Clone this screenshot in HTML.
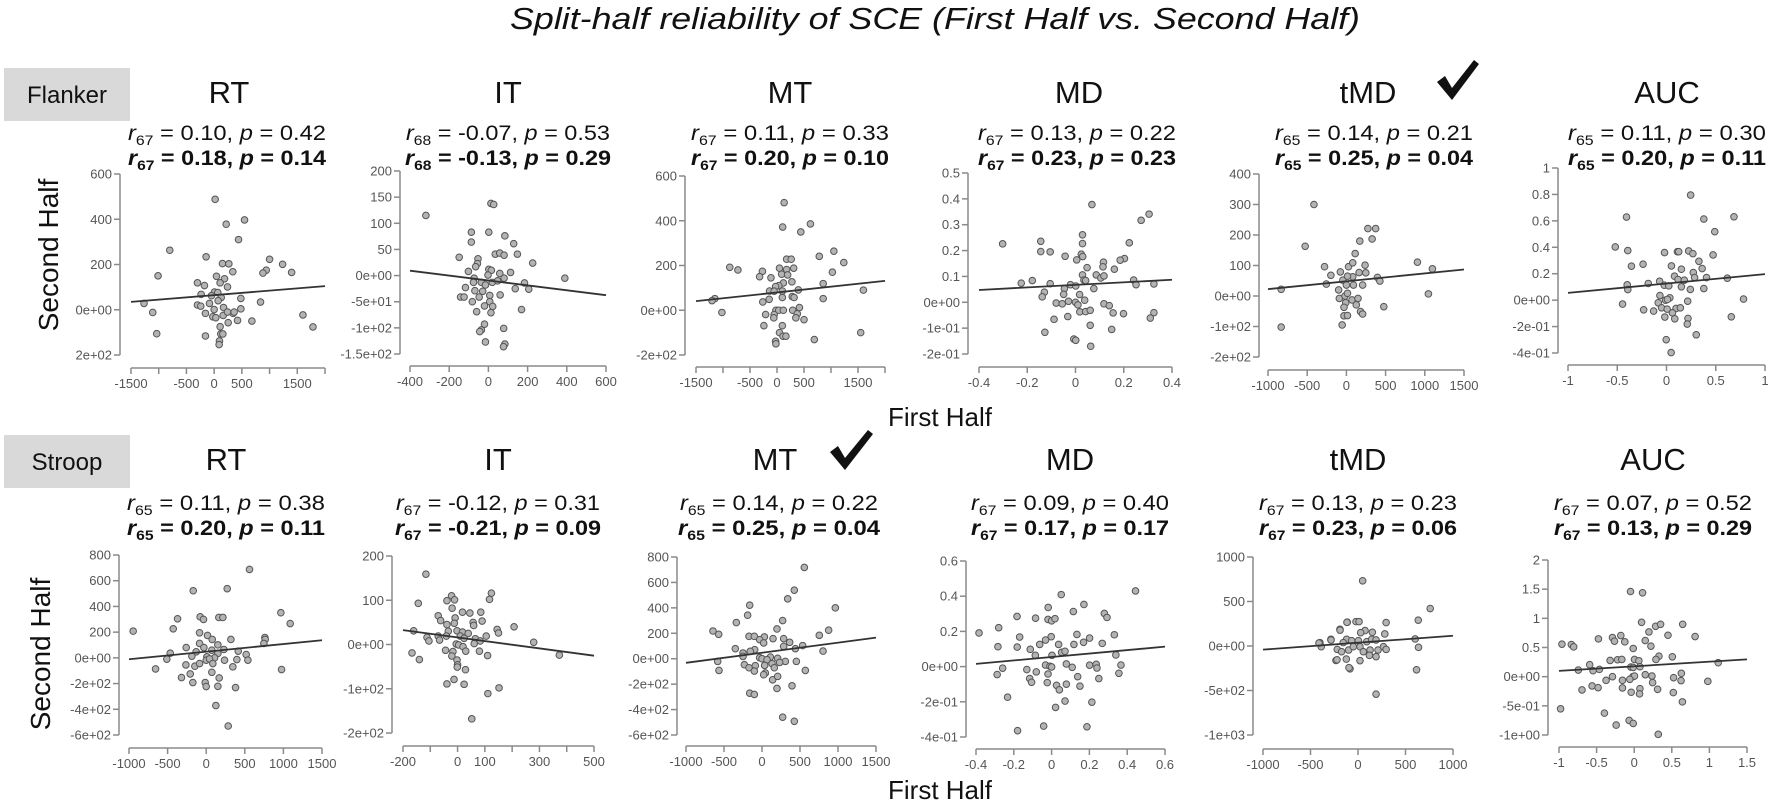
<!DOCTYPE html>
<html><head><meta charset="utf-8"><style>
html,body{margin:0;padding:0;background:#fff;}
svg{display:block;font-family:"Liberation Sans",Arial,sans-serif;}
.tk{font-size:13px;fill:#555;}
.ttl{font-size:31px;fill:#111;}
.st{font-size:21px;fill:#111;}
.stb{font-size:21px;fill:#111;font-weight:bold;}
</style></head><body>
<svg id="fig" width="1772" height="809" viewBox="0 0 1772 809" xmlns="http://www.w3.org/2000/svg">
<text x="935" y="29" text-anchor="middle" font-size="31" font-style="italic" fill="#111" textLength="850" lengthAdjust="spacingAndGlyphs">Split-half reliability of SCE (First Half vs. Second Half)</text>

<rect x="4" y="68" width="126" height="53" fill="#d9d9d9"/>
<text x="67" y="103" text-anchor="middle" font-size="24" fill="#111">Flanker</text>
<rect x="4" y="435" width="126" height="53" fill="#d9d9d9"/>
<text x="67" y="470" text-anchor="middle" font-size="24" fill="#111">Stroop</text>

<text transform="translate(58,255) rotate(-90)" text-anchor="middle" font-size="28" fill="#111">Second Half</text>
<text transform="translate(50,654) rotate(-90)" text-anchor="middle" font-size="28" fill="#111">Second Half</text>
<text x="940" y="426" text-anchor="middle" font-size="26" fill="#111">First Half</text>
<text x="940" y="799" text-anchor="middle" font-size="26" fill="#111">First Half</text>

<path d="M1437,82 L1445,76 L1452,88 L1474,60 L1479,64 L1452,100 Z" fill="#111"/>
<path d="M830,452 L838,446 L845,458 L868,430 L873,434 L845,470 Z" fill="#111"/>

<!-- row 1 titles and stats -->
<g>
<text class="ttl" x="229" y="103" text-anchor="middle">RT</text>
<text class="st" x="227" y="140" text-anchor="middle" textLength="198" lengthAdjust="spacingAndGlyphs"><tspan font-style="italic">r</tspan><tspan font-size="14" dy="5">67</tspan><tspan dy="-5"> = 0.10, </tspan><tspan font-style="italic">p</tspan> = 0.42</text>
<text class="stb" x="227" y="165" text-anchor="middle" textLength="198" lengthAdjust="spacingAndGlyphs"><tspan font-style="italic">r</tspan><tspan font-size="14" dy="5">67</tspan><tspan dy="-5"> = 0.18, </tspan><tspan font-style="italic">p</tspan> = 0.14</text>
</g>
<g>
<text class="ttl" x="508" y="103" text-anchor="middle">IT</text>
<text class="st" x="508" y="140" text-anchor="middle" textLength="204" lengthAdjust="spacingAndGlyphs"><tspan font-style="italic">r</tspan><tspan font-size="14" dy="5">68</tspan><tspan dy="-5"> = -0.07, </tspan><tspan font-style="italic">p</tspan> = 0.53</text>
<text class="stb" x="508" y="165" text-anchor="middle" textLength="206" lengthAdjust="spacingAndGlyphs"><tspan font-style="italic">r</tspan><tspan font-size="14" dy="5">68</tspan><tspan dy="-5"> = -0.13, </tspan><tspan font-style="italic">p</tspan> = 0.29</text>
</g>
<g>
<text class="ttl" x="790" y="103" text-anchor="middle">MT</text>
<text class="st" x="790" y="140" text-anchor="middle" textLength="198" lengthAdjust="spacingAndGlyphs"><tspan font-style="italic">r</tspan><tspan font-size="14" dy="5">67</tspan><tspan dy="-5"> = 0.11, </tspan><tspan font-style="italic">p</tspan> = 0.33</text>
<text class="stb" x="790" y="165" text-anchor="middle" textLength="198" lengthAdjust="spacingAndGlyphs"><tspan font-style="italic">r</tspan><tspan font-size="14" dy="5">67</tspan><tspan dy="-5"> = 0.20, </tspan><tspan font-style="italic">p</tspan> = 0.10</text>
</g>
<g>
<text class="ttl" x="1079" y="103" text-anchor="middle">MD</text>
<text class="st" x="1077" y="140" text-anchor="middle" textLength="198" lengthAdjust="spacingAndGlyphs"><tspan font-style="italic">r</tspan><tspan font-size="14" dy="5">67</tspan><tspan dy="-5"> = 0.13, </tspan><tspan font-style="italic">p</tspan> = 0.22</text>
<text class="stb" x="1077" y="165" text-anchor="middle" textLength="198" lengthAdjust="spacingAndGlyphs"><tspan font-style="italic">r</tspan><tspan font-size="14" dy="5">67</tspan><tspan dy="-5"> = 0.23, </tspan><tspan font-style="italic">p</tspan> = 0.23</text>
</g>
<g>
<text class="ttl" x="1368" y="103" text-anchor="middle">tMD</text>
<text class="st" x="1374" y="140" text-anchor="middle" textLength="198" lengthAdjust="spacingAndGlyphs"><tspan font-style="italic">r</tspan><tspan font-size="14" dy="5">65</tspan><tspan dy="-5"> = 0.14, </tspan><tspan font-style="italic">p</tspan> = 0.21</text>
<text class="stb" x="1374" y="165" text-anchor="middle" textLength="198" lengthAdjust="spacingAndGlyphs"><tspan font-style="italic">r</tspan><tspan font-size="14" dy="5">65</tspan><tspan dy="-5"> = 0.25, </tspan><tspan font-style="italic">p</tspan> = 0.04</text>
</g>
<g>
<text class="ttl" x="1667" y="103" text-anchor="middle">AUC</text>
<text class="st" x="1667" y="140" text-anchor="middle" textLength="198" lengthAdjust="spacingAndGlyphs"><tspan font-style="italic">r</tspan><tspan font-size="14" dy="5">65</tspan><tspan dy="-5"> = 0.11, </tspan><tspan font-style="italic">p</tspan> = 0.30</text>
<text class="stb" x="1667" y="165" text-anchor="middle" textLength="198" lengthAdjust="spacingAndGlyphs"><tspan font-style="italic">r</tspan><tspan font-size="14" dy="5">65</tspan><tspan dy="-5"> = 0.20, </tspan><tspan font-style="italic">p</tspan> = 0.11</text>
</g>

<!-- row 2 titles and stats -->
<g>
<text class="ttl" x="226" y="470" text-anchor="middle">RT</text>
<text class="st" x="226" y="510" text-anchor="middle" textLength="198" lengthAdjust="spacingAndGlyphs"><tspan font-style="italic">r</tspan><tspan font-size="14" dy="5">65</tspan><tspan dy="-5"> = 0.11, </tspan><tspan font-style="italic">p</tspan> = 0.38</text>
<text class="stb" x="226" y="535" text-anchor="middle" textLength="198" lengthAdjust="spacingAndGlyphs"><tspan font-style="italic">r</tspan><tspan font-size="14" dy="5">65</tspan><tspan dy="-5"> = 0.20, </tspan><tspan font-style="italic">p</tspan> = 0.11</text>
</g>
<g>
<text class="ttl" x="498" y="470" text-anchor="middle">IT</text>
<text class="st" x="498" y="510" text-anchor="middle" textLength="204" lengthAdjust="spacingAndGlyphs"><tspan font-style="italic">r</tspan><tspan font-size="14" dy="5">67</tspan><tspan dy="-5"> = -0.12, </tspan><tspan font-style="italic">p</tspan> = 0.31</text>
<text class="stb" x="498" y="535" text-anchor="middle" textLength="206" lengthAdjust="spacingAndGlyphs"><tspan font-style="italic">r</tspan><tspan font-size="14" dy="5">67</tspan><tspan dy="-5"> = -0.21, </tspan><tspan font-style="italic">p</tspan> = 0.09</text>
</g>
<g>
<text class="ttl" x="775" y="470" text-anchor="middle">MT</text>
<text class="st" x="779" y="510" text-anchor="middle" textLength="198" lengthAdjust="spacingAndGlyphs"><tspan font-style="italic">r</tspan><tspan font-size="14" dy="5">65</tspan><tspan dy="-5"> = 0.14, </tspan><tspan font-style="italic">p</tspan> = 0.22</text>
<text class="stb" x="779" y="535" text-anchor="middle" textLength="202" lengthAdjust="spacingAndGlyphs"><tspan font-style="italic">r</tspan><tspan font-size="14" dy="5">65</tspan><tspan dy="-5"> = 0.25, </tspan><tspan font-style="italic">p</tspan> = 0.04</text>
</g>
<g>
<text class="ttl" x="1070" y="470" text-anchor="middle">MD</text>
<text class="st" x="1070" y="510" text-anchor="middle" textLength="198" lengthAdjust="spacingAndGlyphs"><tspan font-style="italic">r</tspan><tspan font-size="14" dy="5">67</tspan><tspan dy="-5"> = 0.09, </tspan><tspan font-style="italic">p</tspan> = 0.40</text>
<text class="stb" x="1070" y="535" text-anchor="middle" textLength="198" lengthAdjust="spacingAndGlyphs"><tspan font-style="italic">r</tspan><tspan font-size="14" dy="5">67</tspan><tspan dy="-5"> = 0.17, </tspan><tspan font-style="italic">p</tspan> = 0.17</text>
</g>
<g>
<text class="ttl" x="1358" y="470" text-anchor="middle">tMD</text>
<text class="st" x="1358" y="510" text-anchor="middle" textLength="198" lengthAdjust="spacingAndGlyphs"><tspan font-style="italic">r</tspan><tspan font-size="14" dy="5">67</tspan><tspan dy="-5"> = 0.13, </tspan><tspan font-style="italic">p</tspan> = 0.23</text>
<text class="stb" x="1358" y="535" text-anchor="middle" textLength="198" lengthAdjust="spacingAndGlyphs"><tspan font-style="italic">r</tspan><tspan font-size="14" dy="5">67</tspan><tspan dy="-5"> = 0.23, </tspan><tspan font-style="italic">p</tspan> = 0.06</text>
</g>
<g>
<text class="ttl" x="1653" y="470" text-anchor="middle">AUC</text>
<text class="st" x="1653" y="510" text-anchor="middle" textLength="198" lengthAdjust="spacingAndGlyphs"><tspan font-style="italic">r</tspan><tspan font-size="14" dy="5">67</tspan><tspan dy="-5"> = 0.07, </tspan><tspan font-style="italic">p</tspan> = 0.52</text>
<text class="stb" x="1653" y="535" text-anchor="middle" textLength="198" lengthAdjust="spacingAndGlyphs"><tspan font-style="italic">r</tspan><tspan font-size="14" dy="5">67</tspan><tspan dy="-5"> = 0.13, </tspan><tspan font-style="italic">p</tspan> = 0.29</text>
</g>
<g id="plots"></g>
</svg>
<script>
// ---------- data (First Half, Second Half) ----------
const flankerRT = [[18,488],[217,378],[548,397],[440,310],[-801,263],[-145,234],[-1012,150],[1000,223],[1235,201],[1398,165],[940,175],[880,162],[150,204],[265,203],[337,168],[42,148],[187,137],[-301,119],[-175,107],[108,119],[241,101],[6,78],[66,76],[-235,68],[-48,62],[127,54],[482,50],[-1265,28],[-301,21],[-241,16],[-84,28],[0,1],[72,40],[169,10],[482,4],[837,34],[-1108,-12],[-157,-16],[-24,-31],[30,-35],[163,-25],[343,-16],[241,-10],[361,-10],[422,-47],[253,-57],[681,-50],[1602,-23],[1783,-76],[-1036,-106],[108,-75],[120,-107],[157,-107],[-157,-116],[96,-138],[90,-154]];
const flankerIT = [[-319,115],[13,138],[27,136],[-87,83],[2,83],[84,76],[-87,64],[129,61],[-149,35],[-53,32],[-56,23],[35,41],[58,43],[80,39],[148,41],[226,24],[-65,17],[-102,8],[2,12],[15,10],[-2,1],[58,4],[113,6],[80,-5],[390,-5],[-73,-5],[-36,-13],[20,-13],[47,-10],[-76,-13],[-117,-23],[-15,-18],[184,-14],[206,-26],[137,-25],[-69,-29],[-29,-30],[-142,-41],[-124,-41],[-47,-41],[7,-38],[60,-37],[-82,-50],[7,-50],[-20,-58],[22,-59],[169,-65],[-60,-69],[13,-71],[-20,-93],[78,-101],[-36,-104],[-44,-107],[-15,-127],[84,-131],[77,-136]];
const flankerMT = [[132,481],[105,372],[619,386],[441,350],[-875,192],[-724,180],[178,228],[263,228],[309,188],[46,188],[178,182],[783,241],[1053,264],[1026,170],[1237,213],[-270,174],[-322,150],[-112,145],[86,161],[197,158],[276,127],[118,122],[33,110],[-26,106],[-138,86],[-53,85],[99,86],[395,91],[855,119],[855,52],[283,61],[316,57],[99,57],[-145,49],[-263,37],[-1151,52],[-1204,43],[-1020,-10],[-20,0],[33,0],[118,0],[290,0],[415,12],[-211,-19],[-53,-19],[375,-16],[349,-34],[500,-42],[-59,-34],[-243,-69],[99,-69],[46,-100],[112,-116],[165,-116],[-26,-139],[-20,-150],[691,-131],[1550,-100],[1600,90]];
const flankerMD = [[0.068,0.378],[0.305,0.341],[0.272,0.317],[-0.302,0.226],[-0.144,0.236],[-0.144,0.196],[-0.105,0.195],[0.029,0.261],[0.029,0.227],[0.024,0.186],[0.030,0.177],[-0.043,0.178],[0.005,0.164],[0.048,0.134],[0.223,0.230],[0.203,0.169],[0.185,0.163],[0.116,0.155],[0.114,0.137],[0.161,0.128],[0.029,0.106],[0.086,0.106],[0.105,0.094],[0.118,0.102],[0.035,0.086],[0.042,0.084],[0.241,0.086],[0.251,0.068],[0.325,0.071],[-0.225,0.074],[-0.179,0.084],[-0.105,0.072],[-0.046,0.053],[0.076,0.053],[-0.021,0.068],[0.001,0.063],[-0.129,0.039],[-0.138,0.021],[-0.049,0.031],[0.017,0.030],[-0.08,-0.003],[-0.055,-0.006],[-0.029,0.004],[0,0],[0.01,-0.01],[0.038,0.008],[0.118,-0.006],[0.14,-0.013],[0.018,-0.037],[0.042,-0.036],[0.061,-0.031],[0.156,-0.041],[0.199,-0.044],[0.325,-0.040],[0.31,-0.061],[-0.089,-0.066],[-0.032,-0.055],[0.061,-0.089],[0.150,-0.105],[-0.127,-0.116],[-0.007,-0.142],[0.001,-0.147],[0.063,-0.170]];
const flankerTMD = [[-414,300],[-526,163],[-832,22],[-832,-102],[-279,96],[-198,68],[-256,39],[-77,79],[-45,52],[27,96],[81,109],[112,139],[171,180],[274,221],[373,221],[328,187],[238,101],[162,77],[81,63],[14,65],[0,36],[90,36],[207,36],[247,76],[396,61],[427,49],[-99,20],[-90,-8],[-18,0],[14,9],[72,-13],[148,-8],[-9,-22],[126,-29],[-31,-37],[180,-51],[207,-59],[-31,-65],[14,-64],[-54,-95],[477,-35],[906,111],[1097,89],[1046,7]];
const flankerAUC = [[0.245,0.795],[-0.406,0.629],[0.379,0.614],[0.685,0.631],[0.49,0.518],[-0.52,0.403],[-0.393,0.375],[-0.02,0.36],[0.111,0.367],[0.124,0.367],[0.225,0.372],[0.268,0.352],[0.473,0.342],[-0.356,0.257],[-0.238,0.272],[0.05,0.259],[0.329,0.294],[0.362,0.239],[0.151,0.234],[0.272,0.209],[0.285,0.171],[0.406,0.171],[0.617,0.166],[0.081,0.181],[0.117,0.156],[0.181,0.151],[-0.185,0.126],[-0.399,0.116],[-0.393,0.08],[-0.07,0.143],[-0.023,0.113],[0.023,0.108],[0.151,0.101],[0.242,0.081],[0.379,0.088],[-0.067,0.035],[0.034,0.018],[-0.01,0],[0.01,0.005],[0.782,0.008],[-0.446,-0.03],[-0.084,-0.02],[-0.05,-0.058],[0.007,-0.068],[0.097,-0.063],[0.141,-0.058],[0.215,-0.008],[-0.232,-0.073],[-0.131,-0.083],[0.06,-0.096],[0.084,-0.141],[-0.017,-0.128],[0.218,-0.138],[0.211,-0.181],[0.658,-0.126],[0.302,-0.262],[-0.003,-0.299],[0.047,-0.397]];
const stroopRT = [[561,688],[-168,522],[272,538],[-371,304],[-78,319],[-35,299],[164,314],[216,314],[967,351],[1088,267],[-946,208],[-427,226],[-86,195],[17,174],[320,143],[760,158],[764,143],[747,112],[-86,112],[78,143],[151,101],[-259,80],[-30,80],[229,65],[73,60],[151,34],[-130,47],[-466,36],[-186,13],[9,8],[108,0],[518,26],[540,-18],[415,52],[-510,-10],[0,-18],[43,-8],[237,-18],[397,-13],[-263,-55],[-147,-65],[-86,-44],[86,-44],[345,-70],[-656,-86],[976,-91],[73,-112],[-207,-125],[-320,-153],[168,-156],[-173,-192],[-13,-192],[0,-223],[151,-221],[380,-231],[125,-371],[285,-530]];
const stroopIT = [[-116,159],[-144,93],[-22,110],[-39,99],[-11,101],[124,116],[117,102],[-20,82],[18,73],[45,71],[85,73],[-71,65],[-62,54],[-9,60],[57,50],[59,43],[90,53],[-39,45],[-12,48],[207,40],[145,34],[150,26],[-2,31],[-34,30],[-161,31],[18,28],[39,25],[10,19],[-71,19],[-41,19],[-112,16],[-105,8],[-66,10],[24,14],[65,13],[61,2],[105,19],[83,8],[-5,1],[4,-1],[279,5],[20,-5],[-167,-19],[-140,-34],[-44,-13],[-17,-16],[30,-15],[80,-15],[110,-25],[373,-24],[-21,-26],[-2,-35],[0,-46],[-1,-51],[29,-57],[-39,-89],[-13,-79],[24,-90],[152,-98],[111,-111],[52,-168]];
const stroopMT = [[557,718],[425,539],[338,471],[965,400],[-162,421],[-189,342],[-338,284],[272,300],[197,234],[-645,218],[-570,192],[-171,176],[-101,176],[31,171],[145,158],[285,158],[364,129],[-31,150],[22,124],[877,224],[754,184],[535,103],[803,60],[439,79],[285,97],[-351,79],[-96,71],[-154,58],[-250,45],[-250,18],[-31,8],[0,0],[110,13],[66,-8],[206,3],[307,-21],[452,-21],[-583,-21],[-232,-47],[-88,-55],[35,-53],[132,-39],[232,-29],[162,-71],[-171,-71],[-566,-92],[-101,-97],[44,-113],[22,-126],[570,-92],[140,-166],[206,-139],[395,-213],[197,-234],[-162,-271],[-101,-281],[272,-460],[425,-492]];
const stroopMD = [[0.444,0.430],[0.051,0.409],[0.171,0.353],[-0.018,0.336],[0.115,0.313],[0.279,0.302],[0.293,0.279],[-0.183,0.285],[-0.085,0.275],[-0.019,0.268],[0,0.26],[0.018,0.272],[-0.28,0.221],[-0.384,0.191],[-0.169,0.168],[0.134,0.183],[0.201,0.162],[0.332,0.181],[0.268,0.132],[0.169,0.138],[0.118,0.126],[-0.002,0.17],[-0.032,0.151],[-0.063,0.126],[0.037,0.126],[-0.284,0.113],[-0.182,0.111],[-0.113,0.098],[-0.086,0.064],[0.002,0.064],[0.053,0.081],[0.071,0.087],[0.34,0.066],[-0.259,-0.009],[-0.288,-0.045],[-0.131,-0.017],[-0.081,-0.03],[-0.032,0.009],[-0.009,0.002],[0,-0.002],[0.078,0.015],[0.109,-0.004],[0.201,0.008],[0.236,0.013],[0.24,-0.008],[0.367,0.009],[0.356,-0.038],[-0.019,-0.042],[-0.116,-0.068],[-0.106,-0.089],[-0.023,-0.091],[0.138,-0.057],[0.25,-0.068],[0.026,-0.106],[0.078,-0.1],[0.15,-0.111],[0.041,-0.132],[-0.233,-0.174],[0.071,-0.196],[0.213,-0.202],[0.021,-0.232],[-0.042,-0.338],[-0.18,-0.364],[0.187,-0.342]];
const stroopTMD = [[49,733],[760,421],[-113,267],[-21,274],[11,274],[296,263],[634,290],[-190,188],[74,173],[28,150],[151,154],[282,135],[-285,75],[-401,38],[-387,-8],[-120,75],[-67,60],[-155,38],[4,60],[92,49],[144,75],[190,68],[602,79],[-218,-38],[-173,-64],[-99,-45],[-49,-8],[21,-8],[56,-64],[127,-45],[211,-45],[268,-8],[296,-38],[637,-15],[-232,-162],[-123,-147],[21,-165],[120,-105],[190,-120],[-84,-256],[616,-267],[190,-541],[-411,33],[-284,67],[-189,178],[-221,-155],[-116,266],[-95,-244]];
const stroopAUC = [[-0.049,1.46],[0.111,1.438],[0.098,0.932],[0.285,0.864],[0.351,0.898],[0.645,0.898],[0.196,0.767],[0.449,0.71],[0.81,0.688],[-0.961,0.557],[-0.836,0.551],[-0.805,0.511],[-0.476,0.648],[-0.289,0.67],[-0.262,0.608],[-0.178,0.705],[-0.125,0.597],[-0.013,0.483],[0.147,0.619],[0.222,0.523],[0.507,0.341],[0.329,0.352],[0.289,0.295],[-0.32,0.278],[-0.222,0.29],[-0.165,0.295],[0.004,0.295],[0.062,0.273],[-0.592,0.205],[-0.547,0.102],[-0.463,0.125],[-0.743,0.114],[-0.044,0.165],[-0.013,0.159],[0.076,0.17],[1.117,0.239],[-0.018,0],[0.004,0.011],[0.147,0.034],[0.236,0.011],[0.627,0.057],[-0.289,0],[-0.374,-0.063],[-0.156,-0.063],[-0.058,-0.045],[0.524,-0.017],[0.623,-0.068],[0.245,-0.102],[0.979,-0.08],[-0.694,-0.227],[-0.56,-0.159],[-0.48,-0.188],[-0.156,-0.193],[0.076,-0.205],[0.311,-0.216],[-0.04,-0.267],[0.071,-0.295],[0.52,-0.273],[0.641,-0.432],[-0.979,-0.551],[-0.396,-0.625],[-0.24,-0.83],[-0.067,-0.75],[-0.013,-0.801],[0.32,-0.989]];

// ---------- tick values and labels ----------
const yTicksA = [600,400,200,0,-200];
const yLabF_RT = ["600","400","200","0e+00","2e+02"];
const yLabF_MT = ["600","400","200","0e+00","-2e+02"];
const xTicksWide = [-1500,-1000,-500,0,500,1000,1500,2000];
const xLabWide = ["-1500","","-500","0","500","","1500",""];
const yTicksF_IT = [200,150,100,50,0,-50,-100,-150];
const yLabF_IT = ["200","150","100","50","0e+00","-5e+01","-1e+02","-1.5e+02"];
const xTicksF_IT = [-400,-200,0,200,400,600];
const xLabF_IT = ["-400","-200","0","200","400","600"];
const yTicksF_MD = [0.5,0.4,0.3,0.2,0.1,0,-0.1,-0.2];
const yLabF_MD = ["0.5","0.4","0.3","0.2","0.1","0e+00","-1e-01","-2e-01"];
const xTicksF_MD = [-0.4,-0.2,0,0.2,0.4];
const xLabF_MD = ["-0.4","-0.2","0","0.2","0.4"];
const yTicksF_TMD = [400,300,200,100,0,-100,-200];
const yLabF_TMD = ["400","300","200","100","0e+00","-1e+02","-2e+02"];
const xTicksK = [-1000,-500,0,500,1000,1500];
const xLabK = ["-1000","-500","0","500","1000","1500"];
const yTicksF_AUC = [1,0.8,0.6,0.4,0.2,0,-0.2,-0.4];
const yLabF_AUC = ["1","0.8","0.6","0.4","0.2","0e+00","-2e-01","-4e-01"];
const xTicksF_AUC = [-1,-0.5,0,0.5,1];
const xLabF_AUC = ["-1","-0.5","0","0.5","1"];
const yTicksS_RT = [800,600,400,200,0,-200,-400,-600];
const yLabS_RT = ["800","600","400","200","0e+00","-2e+02","-4e+02","-6e+02"];
const yTicksS_IT = [200,100,0,-100,-200];
const yLabS_IT = ["200","100","0e+00","-1e+02","-2e+02"];
const xTicksS_IT = [-200,-100,0,100,200,300,400,500];
const xLabS_IT = ["-200","","0","100","","300","","500"];
const yTicksS_MD = [0.6,0.4,0.2,0,-0.2,-0.4];
const yLabS_MD = ["0.6","0.4","0.2","0e+00","-2e-01","-4e-01"];
const xTicksS_MD = [-0.4,-0.2,0,0.2,0.4,0.6];
const xLabS_MD = ["-0.4","-0.2","0","0.2","0.4","0.6"];
const yTicksS_TMD = [1000,500,0,-500,-1000];
const yLabS_TMD = ["1000","500","0e+00","-5e+02","-1e+03"];
const xTicksS_TMD = [-1000,-500,0,500,1000];
const xLabS_TMD = ["-1000","-500","0","500","1000"];
const yTicksS_AUC = [2,1.5,1,0.5,0,-0.5,-1];
const yLabS_AUC = ["2","1.5","1","0.5","0e+00","-5e-01","-1e+00"];
const xTicksS_AUC = [-1,-0.5,0,0.5,1,1.5];
const xLabS_AUC = ["-1","-0.5","0","0.5","1","1.5"];

// ---------- panel layout (pixel geometry) ----------
const panels = [
 {name:"flanker-rt", pts:flankerRT, yt:yTicksA, yl:yLabF_RT, xt:xTicksWide, xl:xLabWide, ax:120, x0:131, x1:325, xy:368, y0:174, y1:355},
 {name:"flanker-it", pts:flankerIT, yt:yTicksF_IT, yl:yLabF_IT, xt:xTicksF_IT, xl:xLabF_IT, ax:400, x0:410, x1:606, xy:366, y0:171, y1:354},
 {name:"flanker-mt", pts:flankerMT, yt:yTicksA, yl:yLabF_MT, xt:xTicksWide, xl:xLabWide, ax:685, x0:696, x1:885, xy:367, y0:176, y1:355},
 {name:"flanker-md", pts:flankerMD, yt:yTicksF_MD, yl:yLabF_MD, xt:xTicksF_MD, xl:xLabF_MD, ax:968, x0:979, x1:1172, xy:367, y0:173, y1:354},
 {name:"flanker-tmd", pts:flankerTMD, yt:yTicksF_TMD, yl:yLabF_TMD, xt:xTicksK, xl:xLabK, ax:1259, x0:1268, x1:1464, xy:370, y0:174, y1:357},
 {name:"flanker-auc", pts:flankerAUC, yt:yTicksF_AUC, yl:yLabF_AUC, xt:xTicksF_AUC, xl:xLabF_AUC, ax:1558, x0:1568, x1:1765, xy:365, y0:168, y1:353},
 {name:"stroop-rt", pts:stroopRT, yt:yTicksS_RT, yl:yLabS_RT, xt:xTicksK, xl:xLabK, ax:119, x0:129, x1:322, xy:748, y0:555, y1:735},
 {name:"stroop-it", pts:stroopIT, yt:yTicksS_IT, yl:yLabS_IT, xt:xTicksS_IT, xl:xLabS_IT, ax:392, x0:403, x1:594, xy:746, y0:556, y1:733},
 {name:"stroop-mt", pts:stroopMT, yt:yTicksS_RT, yl:yLabS_RT, xt:xTicksK, xl:xLabK, ax:677, x0:686, x1:876, xy:746, y0:557, y1:735},
 {name:"stroop-md", pts:stroopMD, yt:yTicksS_MD, yl:yLabS_MD, xt:xTicksS_MD, xl:xLabS_MD, ax:966, x0:976, x1:1165, xy:749, y0:561, y1:737},
 {name:"stroop-tmd", pts:stroopTMD, yt:yTicksS_TMD, yl:yLabS_TMD, xt:xTicksS_TMD, xl:xLabS_TMD, ax:1253, x0:1263, x1:1453, xy:749, y0:557, y1:735},
 {name:"stroop-auc", pts:stroopAUC, yt:yTicksS_AUC, yl:yLabS_AUC, xt:xTicksS_AUC, xl:xLabS_AUC, ax:1548, x0:1559, x1:1747, xy:747, y0:560, y1:735}
];

const NS = "http://www.w3.org/2000/svg";
const root = document.getElementById("plots");
function mk(tag, attrs, parent){
  const e = document.createElementNS(NS, tag);
  for (const k in attrs) e.setAttribute(k, attrs[k]);
  parent.appendChild(e);
  return e;
}

panels.forEach(p => {
  const g = mk("g", {}, root);
  
  
  const xmin = p.xt[0], xmax = p.xt[p.xt.length-1];
  const ytop = p.yt[0], ybot = p.yt[p.yt.length-1];
  const sx = v => p.x0 + (v - xmin) / (xmax - xmin) * (p.x1 - p.x0);
  const sy = v => p.y0 + (ytop - v) / (ytop - ybot) * (p.y1 - p.y0);

  // y axis
  const ya = mk("g", {}, g);
  
  
  mk("line", {x1:p.ax, x2:p.ax, y1:p.y0, y2:p.y1, stroke:"#8a8a8a", "stroke-width":1.5}, ya);
  p.yt.forEach((v,i) => {
    const y = sy(v);
    mk("line", {x1:p.ax-6, x2:p.ax, y1:y, y2:y, stroke:"#8a8a8a", "stroke-width":1.5}, ya);
    const t = mk("text", {x:p.ax-8, y:y+4.5, "text-anchor":"end", class:"tk"}, ya);
    t.textContent = p.yl[i];
  });
  // x axis
  const xa = mk("g", {}, g);
  
  
  mk("line", {x1:p.x0, x2:p.x1, y1:p.xy, y2:p.xy, stroke:"#8a8a8a", "stroke-width":1.5}, xa);
  p.xt.forEach((v,i) => {
    const x = sx(v);
    mk("line", {x1:x, x2:x, y1:p.xy, y2:p.xy+6, stroke:"#8a8a8a", "stroke-width":1.5}, xa);
    if (p.xl[i]) {
      const t = mk("text", {x:x, y:p.xy+20, "text-anchor":"middle", class:"tk"}, xa);
      t.textContent = p.xl[i];
    }
  });
  // points
  p.pts.forEach(d => {
    const c = mk("circle", {cx:sx(d[0]), cy:sy(d[1]), r:3.3, fill:"#b3b3b3", stroke:"#555", "stroke-width":1}, g);
    
    
  });
  // regression line (OLS)
  const n = p.pts.length;
  let mx=0,my=0; p.pts.forEach(d=>{mx+=d[0];my+=d[1];}); mx/=n; my/=n;
  let sxy=0,sxx=0; p.pts.forEach(d=>{sxy+=(d[0]-mx)*(d[1]-my); sxx+=(d[0]-mx)*(d[0]-mx);});
  const b = sxy/sxx, a = my - b*mx;
  const ln = mk("line", {x1:sx(xmin), y1:sy(a+b*xmin), x2:sx(xmax), y2:sy(a+b*xmax), stroke:"#333", "stroke-width":1.8}, g);
  
  
});
</script>
</body></html>
